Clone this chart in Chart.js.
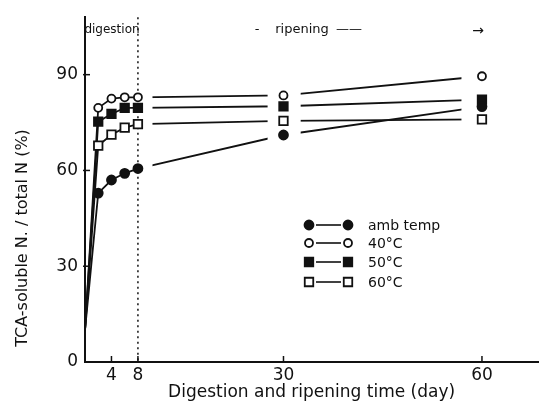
<!DOCTYPE html>
<html><head><meta charset="utf-8">
<script src="https://cdn.jsdelivr.net/npm/chart.js@4.4.1/dist/chart.umd.min.js"></script>
<style>html,body{margin:0;padding:0;background:#fff}#wrap{width:546px;height:406px;position:relative}</style>
</head><body><div id="wrap"><canvas id="c"></canvas></div>
<script>
// ---- data ----
const days = [0, 2, 4, 6, 8, 30, 60];
const seriesNames = ['amb temp', '40°C', '50°C', '60°C'];
const ambTemp = [10, 52.9, 57.0, 59.1, 60.6, 71.1, 80.0];
const temp40  = [10, 79.6, 82.5, 82.9, 82.9, 83.5, 89.5];
const temp50  = [10, 75.3, 77.7, 79.6, 79.6, 80.1, 82.2];
const temp60  = [10, 67.8, 71.2, 73.4, 74.5, 75.5, 76.0];
const xTicks = [4, 8, 30, 60];
const yTicks = [0, 30, 60, 90];
const digestionEndDay = 8;

// ---- styles ----
const FONT = '"DejaVu Sans", sans-serif';
const INK = '#111';
const seriesValues = [ambTemp, temp40, temp50, temp60];
const markerStyles = [
  {pointStyle: 'circle', radius: 4.5, fill: INK},
  {pointStyle: 'circle', radius: 4, fill: '#fff'},
  {pointStyle: 'rect', radius: 6, fill: INK},
  {pointStyle: 'rect', radius: 6, fill: '#fff'}
];
// gaps (in days) left around the markers on the ripening lines
const gapBands = [[8.45, 10.2], [27.6, 32.6], [56.9, 62]];

const datasets = [];
seriesValues.forEach((vals, i) => {
  datasets.push({
    label: seriesNames[i] + ' line',
    data: days.map((d, j) => ({x: d, y: vals[j]})),
    showLine: true, borderColor: INK, borderWidth: 1.8, pointRadius: 0,
    fill: false, tension: 0, order: 2, isMarker: false
  });
});
seriesValues.forEach((vals, i) => {
  const m = markerStyles[i];
  datasets.push({
    label: seriesNames[i],
    data: days.map((d, j) => ({x: d, y: vals[j]})).filter(p => p.x > 0),
    showLine: false, pointStyle: m.pointStyle, pointRadius: m.radius,
    pointBackgroundColor: m.fill, pointBorderColor: INK, pointBorderWidth: 1.8,
    pointHoverRadius: m.radius, order: 1, isMarker: true
  });
});

function drawMarker(ctx, m, x, y) {
  ctx.save();
  ctx.fillStyle = m.fill; ctx.strokeStyle = INK; ctx.lineWidth = 1.8;
  ctx.beginPath();
  if (m.pointStyle === 'circle') {
    ctx.arc(x, y, m.radius, 0, Math.PI * 2);
  } else {
    const s = m.radius / Math.SQRT2;
    ctx.rect(x - s, y - s, 2 * s, 2 * s);
  }
  ctx.fill(); ctx.stroke();
  ctx.restore();
}

const gapPlugin = {
  id: 'gaps',
  beforeDatasetsDraw(chart) { chart.$gapDone = false; },
  beforeDatasetDraw(chart, args) {
    if (chart.$gapDone) return;
    const ds = chart.data.datasets[args.index];
    if (!ds.isMarker) return;
    chart.$gapDone = true;
    const {ctx, chartArea} = chart;
    const xs = chart.scales.x;
    ctx.save();
    ctx.fillStyle = '#fff';
    gapBands.forEach(([a, b]) => {
      const x1 = xs.getPixelForValue(a), x2 = Math.min(xs.getPixelForValue(b), chartArea.right);
      ctx.fillRect(x1, chartArea.top, x2 - x1, chartArea.bottom - chartArea.top - 2);
    });
    // dotted line marking end of digestion
    const xd = xs.getPixelForValue(digestionEndDay);
    ctx.strokeStyle = INK; ctx.lineWidth = 1.5; ctx.setLineDash([2, 3.5]);
    ctx.beginPath(); ctx.moveTo(xd, chartArea.top); ctx.lineTo(xd, chartArea.bottom); ctx.stroke();
    ctx.restore();
  }
};

const decorPlugin = {
  id: 'decor',
  afterDraw(chart) {
    const {ctx, chartArea} = chart;
    const xs = chart.scales.x, ys = chart.scales.y;
    ctx.save();
    ctx.strokeStyle = INK; ctx.lineWidth = 1.5;
    xTicks.forEach(v => {
      const px = xs.getPixelForValue(v);
      ctx.beginPath(); ctx.moveTo(px, chartArea.bottom); ctx.lineTo(px, chartArea.bottom - 6); ctx.stroke();
    });
    yTicks.forEach(v => {
      if (v === 0) return;
      const py = ys.getPixelForValue(v);
      ctx.beginPath(); ctx.moveTo(chartArea.left - 2, py); ctx.lineTo(chartArea.left + 5, py); ctx.stroke();
    });
    // y-axis title
    ctx.fillStyle = INK;
    ctx.save();
    ctx.translate(23, 238); ctx.rotate(-Math.PI / 2);
    ctx.font = '16px ' + FONT; ctx.textAlign = 'center'; ctx.textBaseline = 'middle';
    ctx.fillText('TCA-soluble N. / total N (%)', 0, 0);
    ctx.restore();
    // period annotations
    ctx.font = '12px ' + FONT; ctx.textAlign = 'center'; ctx.textBaseline = 'middle';
    ctx.fillText('digestion', 112, 30);
    ctx.font = '13px ' + FONT;
    ctx.fillText('-', 257, 30);
    ctx.fillText('ripening', 302, 30);
    ctx.fillText('——', 349, 30);
    ctx.font = '14px ' + FONT;
    ctx.fillText('→', 478, 31);
    // legend
    const rows = [225, 243, 262, 282];
    ctx.font = '14px ' + FONT; ctx.textAlign = 'left';
    seriesNames.forEach((name, i) => {
      const y = rows[i], m = markerStyles[i];
      ctx.lineWidth = 1.6; ctx.setLineDash([]);
      ctx.beginPath(); ctx.moveTo(316, y); ctx.lineTo(341, y); ctx.stroke();
      drawMarker(ctx, m, 309, y);
      drawMarker(ctx, m, 348, y);
      ctx.fillStyle = INK;
      ctx.fillText(name, 368, y + 1);
    });
    ctx.restore();
  }
};

new Chart(document.getElementById('c'), {
  type: 'scatter',
  data: {datasets},
  options: {
    responsive: true, maintainAspectRatio: false, animation: false,
    layout: {padding: {top: 12, right: 6, left: 0, bottom: 0}},
    plugins: {legend: {display: false}, tooltip: {enabled: false}},
    scales: {
      x: {
        type: 'linear', min: 0, max: 68.5,
        afterBuildTicks: s => { s.ticks = xTicks.map(v => ({value: v})); },
        afterFit: s => { s.height = 44; },
        grid: {display: true, drawOnChartArea: false, drawTicks: false},
        border: {display: true, color: INK, width: 2},
        ticks: {color: INK, font: {family: FONT, size: 17}, padding: 3, autoSkip: false, maxRotation: 0},
        title: {display: true, text: 'Digestion and ripening time (day)', color: INK,
                font: {family: FONT, size: 17}, padding: {top: 0, bottom: 3}}
      },
      y: {
        type: 'linear', min: 0, max: 108,
        afterBuildTicks: s => { s.ticks = yTicks.map(v => ({value: v})); },
        afterFit: s => { s.width = 85; },
        grid: {display: true, drawOnChartArea: false, drawTicks: false},
        border: {display: true, color: INK, width: 2},
        ticks: {color: INK, font: {family: FONT, size: 17}, padding: 7}
      }
    }
  },
  plugins: [gapPlugin, decorPlugin]
});
</script></body></html>
